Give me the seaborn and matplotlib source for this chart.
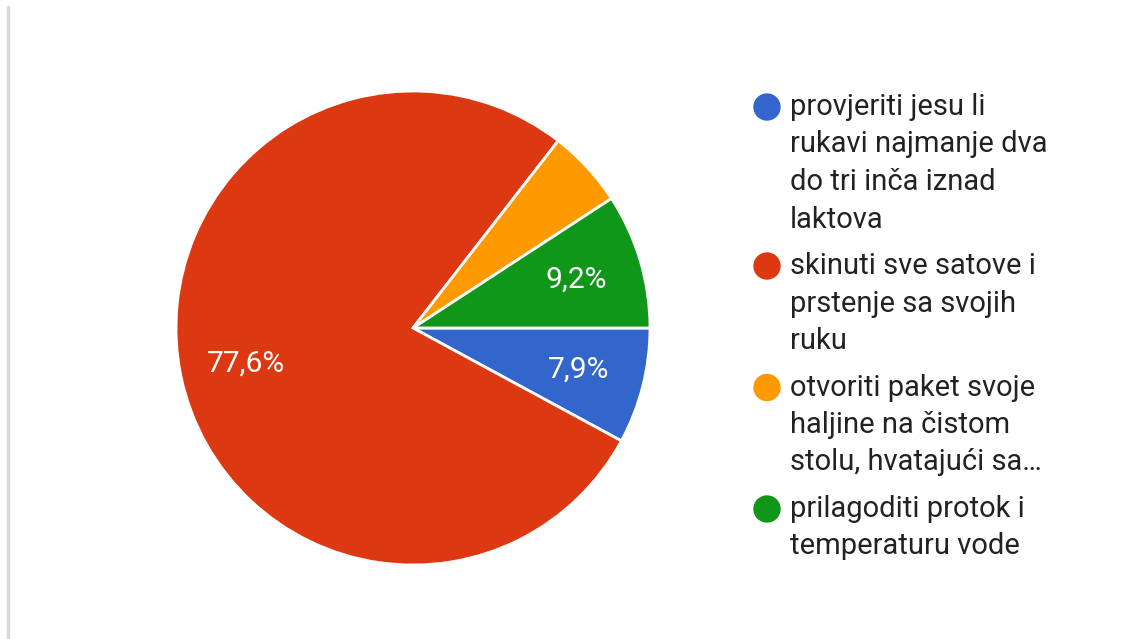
import numpy as np
import matplotlib.pyplot as plt
from matplotlib.patches import Ellipse
import seaborn as sns

# answer shares in percent, in drawing order (clockwise from 3 o'clock)
labels = [
    "provjeriti jesu li\nrukavi najmanje dva\ndo tri inča iznad\nlaktova",
    "skinuti sve satove i\nprstenje sa svojih\nruku",
    "otvoriti paket svoje\nhaljine na čistom\nstolu, hvatajući sa…",
    "prilagoditi protok i\ntemperaturu vode",
]
shares = [7.9, 77.6, 5.3, 9.2]
colors = ["#3366cc", "#dc3912", "#ff9900", "#109618"]

sns.set_theme(style="white")
plt.rcParams["font.family"] = ["Roboto", "DejaVu Sans"]

W, H = 1135, 639
fig = plt.figure(figsize=(W / 100, H / 100), dpi=100)
fig.patch.set_facecolor("white")

# pie axes: centre (413, 328), radius 237 px
cx, cy, r = 413, 328, 237
ax = fig.add_axes([(cx - r) / W, (H - cy - r) / H, 2 * r / W, 2 * r / H])


def fmt(p):
    # google hides labels on the small slices
    if p < 6:
        return ""
    return f"{p:.1f}%".replace(".", ",")


wedges, texts, autotexts = ax.pie(
    shares, colors=colors, startangle=0, counterclock=False,
    autopct=fmt, pctdistance=0.72,
    wedgeprops=dict(edgecolor="white", linewidth=2),
    textprops=dict(color="white", fontsize=21.5),
)
ax.set_xlim(-1, 1)
ax.set_ylim(-1, 1)
ax.set_aspect("equal")
ax.axis("off")

# thin grey border on the left
fig.add_artist(plt.Line2D([8 / W, 8 / W], [0, 1 - 7 / H], color="#dadada", lw=2.5,
                          transform=fig.transFigure))

# legend drawn by hand so the dot sits on the first line
y = 107
for lab, col in zip(labels, colors):
    fig.add_artist(Ellipse((767 / W, 1 - y / H), 26 / W, 26 / H, color=col,
                           transform=fig.transFigure))
    for line in lab.split("\n"):
        fig.text(790 / W, 1 - y / H, line, fontsize=21, color="#222222", va="center", ha="left")
        y += 37.5
    y += 9

fig.savefig("out.png", dpi=100, facecolor="white")
